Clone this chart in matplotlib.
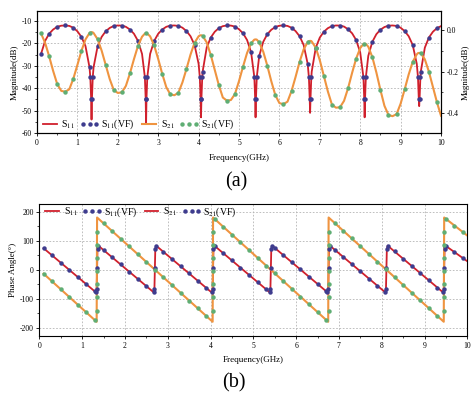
import numpy as np
import matplotlib
matplotlib.use('Agg')
import matplotlib.pyplot as plt
from matplotlib.lines import Line2D
from matplotlib.ticker import MultipleLocator

# frequency samples (GHz), shared by both panels; extra samples around the S11 nulls
freq = [0.1, 0.2, 0.3, 0.4, 0.5, 0.6, 0.7, 0.8, 0.9, 1.0, 1.1, 1.2, 1.3,
        1.32, 1.34, 1.35, 1.36, 1.38,
        1.4, 1.5, 1.6, 1.7, 1.8, 1.9, 2.0, 2.1, 2.2, 2.3, 2.4, 2.5, 2.6,
        2.67, 2.69, 2.7, 2.71, 2.73,
        2.8, 2.9, 3.0, 3.1, 3.2, 3.3, 3.4, 3.5, 3.6, 3.7, 3.8, 3.9, 4.0,
        4.03, 4.05, 4.06, 4.07, 4.09,
        4.1, 4.2, 4.3, 4.4, 4.5, 4.6, 4.7, 4.8, 4.9, 5.0, 5.1, 5.2, 5.3,
        5.38, 5.4, 5.41, 5.42, 5.44,
        5.5, 5.6, 5.7, 5.8, 5.9, 6.0, 6.1, 6.2, 6.3, 6.4, 6.5, 6.6, 6.7,
        6.73, 6.75, 6.76, 6.77, 6.79,
        6.8, 6.9, 7.0, 7.1, 7.2, 7.3, 7.4, 7.5, 7.6, 7.7, 7.8, 7.9, 8.0,
        8.08, 8.1, 8.11, 8.12, 8.14,
        8.2, 8.3, 8.4, 8.5, 8.6, 8.7, 8.8, 8.9, 9.0, 9.1, 9.2, 9.3, 9.4,
        9.43, 9.45, 9.46, 9.47, 9.49,
        9.5, 9.6, 9.7, 9.8, 9.9, 10.0]

# |S11| in dB (left axis)
s11_db = [-24.7, -18.9, -15.7, -13.8, -12.6, -12.1, -12.0, -12.2, -13.0, -14.6, -17.1, -21.2, -30.7,
          -35.1, -44.7, -54.0, -44.7, -35.1,
          -30.7, -21.3, -17.1, -14.6, -13.1, -12.2, -12.0, -12.06, -12.6, -13.8, -15.7, -18.9, -24.7,
          -35.1, -44.7, -56.0, -44.7, -35.1,
          -24.7, -18.9, -15.7, -13.8, -12.6, -12.06, -12.0, -12.2, -13.0, -14.5, -16.8, -20.7, -29.1,
          -35.1, -44.7, -53.0, -44.7, -35.1,
          -32.6, -21.9, -17.4, -14.8, -13.2, -12.3, -12.0, -12.05, -12.5, -13.7, -15.5, -18.5, -24.0,
          -35.1, -44.7, -53.0, -44.7, -35.1,
          -25.6, -19.3, -15.9, -13.9, -12.7, -12.1, -12.0, -12.2, -13.0, -14.5, -16.8, -20.7, -29.1,
          -35.1, -44.7, -51.0, -44.7, -35.1,
          -32.6, -21.9, -17.4, -14.8, -13.2, -12.3, -12.0, -12.05, -12.5, -13.7, -15.5, -18.5, -24.0,
          -35.1, -44.7, -53.0, -44.7, -35.1,
          -25.6, -19.3, -15.9, -13.9, -12.7, -12.1, -12.0, -12.2, -13.0, -14.5, -16.8, -20.7, -29.1,
          -35.1, -44.7, -48.0, -44.7, -35.1,
          -32.6, -21.9, -17.4, -14.8, -13.2, -12.3]

# |S21| in dB (right axis)
s21_db = [-0.016, -0.061, -0.126, -0.197, -0.260, -0.293, -0.297, -0.285, -0.234, -0.168, -0.100, -0.045, -0.014,
          -0.012, -0.010, -0.010, -0.010, -0.011,
          -0.014, -0.044, -0.099, -0.168, -0.236, -0.289, -0.303, -0.300, -0.269, -0.209, -0.140, -0.076, -0.032,
          -0.017, -0.015, -0.015, -0.015, -0.017,
          -0.030, -0.074, -0.139, -0.211, -0.275, -0.310, -0.314, -0.302, -0.252, -0.187, -0.118, -0.061, -0.030,
          -0.026, -0.025, -0.025, -0.025, -0.027,
          -0.028, -0.059, -0.119, -0.193, -0.265, -0.325, -0.340, -0.337, -0.308, -0.246, -0.176, -0.110, -0.063,
          -0.046, -0.045, -0.045, -0.045, -0.046,
          -0.059, -0.104, -0.171, -0.247, -0.314, -0.352, -0.357, -0.345, -0.294, -0.226, -0.153, -0.093, -0.058,
          -0.053, -0.052, -0.052, -0.052, -0.053,
          -0.055, -0.085, -0.145, -0.220, -0.296, -0.359, -0.374, -0.372, -0.341, -0.280, -0.206, -0.137, -0.087,
          -0.067, -0.066, -0.066, -0.066, -0.067,
          -0.080, -0.130, -0.204, -0.288, -0.365, -0.409, -0.415, -0.405, -0.355, -0.286, -0.214, -0.153, -0.117,
          -0.111, -0.110, -0.110, -0.110, -0.111,
          -0.112, -0.141, -0.200, -0.274, -0.348, -0.413]

# phase of S11 (deg)
s11_deg = [74.3, 61.9, 49.5, 37.1, 24.7, 12.3, -0.1, -12.5, -24.9, -37.3, -49.7, -62.1, -74.5,
           -77, -65, 5, 70, 83,
           80.5, 68.1, 55.7, 43.3, 30.9, 18.5, 6.1, -6.3, -18.7, -31.1, -43.5, -55.9, -68.3,
           -77, -65, 5, 70, 83,
           74.3, 61.9, 49.5, 37.1, 24.7, 12.3, -0.1, -12.5, -24.9, -37.3, -49.7, -62.1, -74.5,
           -77, -65, 5, 70, 83,
           81.8, 69.4, 57.0, 44.6, 32.2, 19.8, 7.4, -5.0, -17.4, -29.8, -42.2, -54.6, -67.0,
           -77, -65, 5, 70, 83,
           75.6, 63.2, 50.8, 38.4, 26.0, 13.6, 1.2, -11.2, -23.6, -36.0, -48.4, -60.8, -73.2,
           -77, -65, 5, 70, 83,
           81.8, 69.4, 57.0, 44.6, 32.2, 19.8, 7.4, -5.0, -17.4, -29.8, -42.2, -54.6, -67.0,
           -77, -65, 5, 70, 83,
           75.6, 63.2, 50.8, 38.4, 26.0, 13.6, 1.2, -11.2, -23.6, -36.0, -48.4, -60.8, -73.2,
           -77, -65, 5, 70, 83,
           82.0, 71.5, 61.0, 50.5, 40.0, 29.5]

# phase of S21 (deg)
s21_deg = [-13.3, -26.7, -40.0, -53.3, -66.7, -80.0, -93.3, -106.7, -120.0, -133.3, -146.7, -160.0, -173.3,
           -176.0, -178.7, 180.0, 178.7, 176.0,
           173.4, 160.1, 146.8, 133.5, 120.2, 107.0, 93.7, 80.4, 67.1, 53.8, 40.6, 27.3, 14.0,
           4.7, 2.0, 0.7, -0.6, -3.3,
           -12.6, -25.8, -39.1, -52.4, -65.7, -79.0, -92.2, -105.5, -118.8, -132.1, -145.4, -158.6, -171.9,
           -175.9, -178.6, 180.0, 178.7, 176.0,
           174.7, 161.3, 148.0, 134.7, 121.3, 108.0, 94.7, 81.4, 68.0, 54.7, 41.4, 28.0, 14.7,
           4.0, 1.4, 0.0, -1.3, -4.0,
           -12.0, -25.3, -38.6, -51.9, -65.3, -78.6, -91.9, -105.3, -118.6, -131.9, -145.3, -158.6, -171.9,
           -175.9, -178.6, 180.0, 178.7, 176.0,
           174.7, 161.3, 148.0, 134.7, 121.3, 108.0, 94.7, 81.4, 68.0, 54.7, 41.4, 28.0, 14.7,
           4.0, 1.4, 0.0, -1.3, -4.0,
           -12.0, -25.3, -38.6, -51.9, -65.3, -78.6, -91.9, -105.3, -118.6, -131.9, -145.3, -158.6, -171.9,
           -175.9, -178.6, 180.0, 178.7, 176.0,
           175.4, 163.9, 152.4, 140.9, 129.4, 117.9]

dips = [1.35, 2.70, 4.06, 5.41, 6.76, 8.11, 9.46]
s21_jumps = [1.35, 4.06, 6.76, 9.46]
s21_jump_vf = [-140, -95, -50, -5, 40, 85, 130]

plt.rcParams['font.family'] = 'Liberation Serif'
plt.rcParams['mathtext.fontset'] = 'stix'
plt.rcParams['axes.unicode_minus'] = False

RED = '#d0202c'
ORANGE = '#ef9440'
NAVY = '#3e3c8e'
GREEN = '#5fae74'
GRID = '#b4b4b4'

W, H = 471, 398
fig = plt.figure(figsize=(W / 100, H / 100), dpi=100)


def px(l, t, r, b):
    return [l / W, 1 - b / H, (r - l) / W, (b - t) / H]


f = np.array(freq)
dist = np.min(np.abs(f[:, None] - np.array(dips)[None, :]), axis=1)
odd = np.isclose((f * 10) % 2, 1)
near = dist < 0.035
center = dist < 0.001
s11a = np.array(s11_db)
s21a = np.array(s21_db)
p11 = np.array(s11_deg)
p21 = np.array(s21_deg)


def style(ax):
    for sp in ax.spines.values():
        sp.set_linewidth(0.8)
    ax.tick_params(which='major', direction='out', length=2.5, width=0.6, labelsize=5.5, pad=1.5)
    ax.tick_params(which='minor', direction='out', length=1.5, width=0.5)


# ---- (a) magnitude ----
ax1 = fig.add_axes(px(37, 11, 441, 133))
ax1r = ax1.twinx()
ax1.plot(f, s11a, color=RED, lw=1.3, zorder=3)
m = (odd | near) & ~center
ax1.plot(f[m], s11a[m], 'o', ms=3.2, color=NAVY, mec='none', zorder=4)
ax1r.plot(f, s21a, color=ORANGE, lw=1.5)
ax1r.plot(f[odd], s21a[odd], 'o', ms=3.2, color=GREEN, mec='none')

ax1.set_xlim(0, 10)
ax1.set_ylim(-60, -5.54)
ax1r.set_ylim(-0.496, 0.092)
ax1.xaxis.set_major_locator(MultipleLocator(1))
ax1.xaxis.set_minor_locator(MultipleLocator(0.5))
ax1.set_yticks([-60, -50, -40, -30, -20, -10])
ax1.yaxis.set_minor_locator(MultipleLocator(5))
ax1r.set_yticks([-0.4, -0.2, 0.0])
ax1r.set_yticklabels(['-0.4', '-0.2', '0.0'])
ax1r.yaxis.set_minor_locator(MultipleLocator(0.1))
ax1.grid(True, which='major', color=GRID, ls=(0, (2, 2)), lw=0.6)
ax1.set_axisbelow(True)
style(ax1)
style(ax1r)
ax1.set_xlabel('Frequency(GHz)', fontsize=6.5, labelpad=5)
ax1.set_ylabel('Magnitude(dB)', fontsize=6.5, labelpad=2)
ax1r.set_ylabel('Magnitude(dB)', fontsize=6.5, labelpad=2)

h_a = [Line2D([], [], color=RED, lw=1.3),
       Line2D([], [], ls='none', marker='o', ms=3.2, color=NAVY, mec='none'),
       Line2D([], [], color=ORANGE, lw=1.5),
       Line2D([], [], ls='none', marker='o', ms=3.2, color=GREEN, mec='none')]
lab = ['S$_{11}$', 'S$_{11}$(VF)', 'S$_{21}$', 'S$_{21}$(VF)']
ax1r.legend(h_a, lab, ncol=4, loc='lower left', bbox_to_anchor=(0.005, 0.005),
            frameon=False, numpoints=3, handlelength=2.0, handletextpad=0.2,
            columnspacing=0.5, fontsize=7, borderaxespad=0, borderpad=0.1)

# ---- (b) phase ----
ax2 = fig.add_axes(px(39.3, 204, 467.3, 336))
ax2.plot(f, p11, color=RED, lw=1.3, zorder=3)
mb = odd | near
ax2.plot(f[mb], p11[mb], 'o', ms=3.2, color=NAVY, mec='none', zorder=4)
ax2.plot(f, p21, color=ORANGE, lw=1.5, zorder=3)
ax2.plot(f[odd], p21[odd], 'o', ms=3.2, color=GREEN, mec='none', zorder=4)
for fj in s21_jumps:
    ax2.plot([fj] * len(s21_jump_vf), s21_jump_vf, 'o', ms=3.2, color=GREEN, mec='none', zorder=4)

ax2.set_xlim(0, 10)
ax2.set_ylim(-227.6, 226.5)
ax2.xaxis.set_major_locator(MultipleLocator(1))
ax2.xaxis.set_minor_locator(MultipleLocator(0.5))
ax2.set_yticks([-200, -100, 0, 100, 200])
ax2.yaxis.set_minor_locator(MultipleLocator(50))
ax2.grid(True, which='major', color=GRID, ls=(0, (2, 2)), lw=0.6)
ax2.set_axisbelow(True)
style(ax2)
ax2.set_xlabel('Frequency(GHz)', fontsize=6.5, labelpad=5)
ax2.set_ylabel('Phase Angle(°)', fontsize=6.5, labelpad=2)

h_b = [Line2D([], [], color=RED, lw=1.3),
       Line2D([], [], ls='none', marker='o', ms=3.2, color=NAVY, mec='none'),
       Line2D([], [], color=RED, lw=1.3),
       Line2D([], [], ls='none', marker='o', ms=3.2, color=NAVY, mec='none')]
ax2.legend(h_b, lab, ncol=4, loc='upper left', bbox_to_anchor=(0.005, 0.995),
           frameon=False, numpoints=3, handlelength=2.0, handletextpad=0.2,
           columnspacing=0.5, fontsize=7, borderaxespad=0, borderpad=0.1)

fig.text(236 / W, 1 - 182 / H, '(a)', fontsize=14.5, ha='center', va='center')
fig.text(234 / W, 1 - 383 / H, '(b)', fontsize=14.5, ha='center', va='center')

fig.savefig('out.png', dpi=100)
